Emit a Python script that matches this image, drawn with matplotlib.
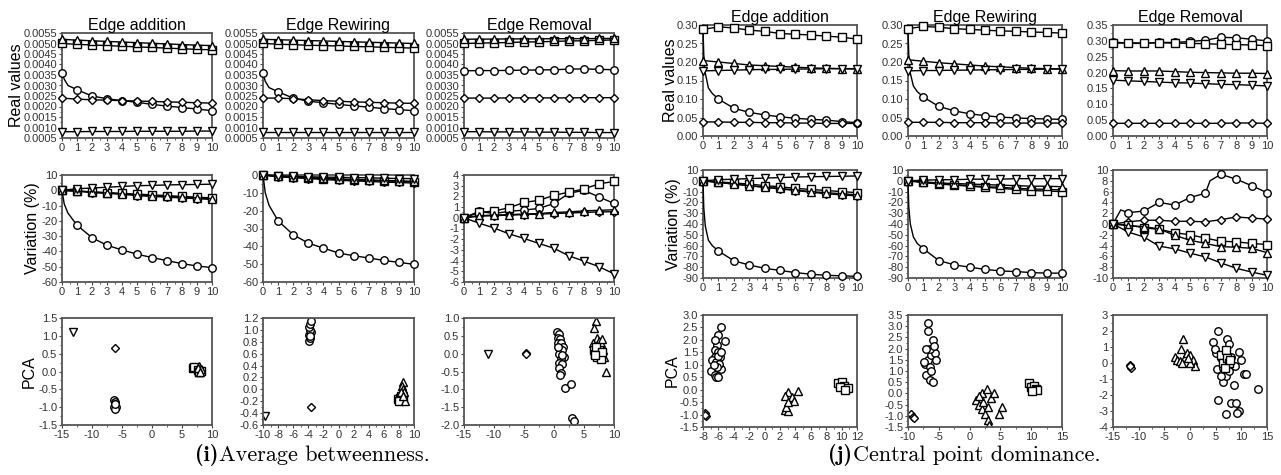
import matplotlib
matplotlib.use('Agg')
import matplotlib.pyplot as plt
from matplotlib.ticker import MultipleLocator, AutoMinorLocator, FormatStrFormatter

plt.rcParams['font.family'] = ['Liberation Sans', 'DejaVu Sans']
plt.rcParams['axes.unicode_minus'] = True

W, H = 1281, 475

steps = [0, 1, 2, 3, 4, 5, 6, 7, 8, 9, 10]
markers = ['o', 'D', 's', '^', 'v']
titles = ['Edge addition', 'Edge Rewiring', 'Edge Removal']
row_labels = ['Real values', 'Variation (%)', 'PCA']

# ---- (i) average betweenness : real values ----
bet_add_real = {
    'o': [0.0036, 0.0028, 0.00250, 0.00237, 0.00228, 0.00220, 0.00210, 0.00202, 0.00195, 0.00188, 0.00180],
    'D': [0.00240, 0.00235, 0.00232, 0.00230, 0.00228, 0.00226, 0.00224, 0.00222, 0.00220, 0.00218, 0.00216],
    's': [0.00500, 0.00496, 0.00493, 0.00490, 0.00487, 0.00484, 0.00481, 0.00478, 0.00475, 0.00472, 0.00470],
    '^': [0.00520, 0.00516, 0.00513, 0.00510, 0.00507, 0.00504, 0.00501, 0.00498, 0.00495, 0.00492, 0.00490],
    'v': [0.00080, 0.00080, 0.00081, 0.00081, 0.00081, 0.00082, 0.00082, 0.00082, 0.00082, 0.00083, 0.00083],
}
bet_add_real_early = {'o': ([0.15, 0.4], [0.0033, 0.0030])}

bet_rew_real = {
    'o': [0.0036, 0.0027, 0.00240, 0.00225, 0.00218, 0.00210, 0.00203, 0.00197, 0.00190, 0.00185, 0.00180],
    'D': [0.00240, 0.00240, 0.00237, 0.00232, 0.00228, 0.00225, 0.00222, 0.00220, 0.00218, 0.00216, 0.00215],
    's': [0.00500, 0.00497, 0.00494, 0.00492, 0.00490, 0.00488, 0.00486, 0.00484, 0.00482, 0.00480, 0.00478],
    '^': [0.00520, 0.00518, 0.00516, 0.00514, 0.00512, 0.00510, 0.00508, 0.00506, 0.00504, 0.00502, 0.00500],
    'v': [0.00080, 0.00080, 0.00080, 0.00080, 0.00080, 0.00080, 0.00080, 0.00080, 0.00080, 0.00080, 0.00080],
}
bet_rew_real_early = {'o': ([0.15, 0.4], [0.0032, 0.0029])}

bet_rem_real = {
    'o': [0.00370, 0.00371, 0.00371, 0.00372, 0.00373, 0.00374, 0.00375, 0.00378, 0.00379, 0.00377, 0.00375],
    'D': [0.00240, 0.00240, 0.00240, 0.00241, 0.00241, 0.00241, 0.00241, 0.00241, 0.00242, 0.00242, 0.00242],
    's': [0.00500, 0.00502, 0.00503, 0.00505, 0.00507, 0.00508, 0.00510, 0.00512, 0.00513, 0.00515, 0.00517],
    '^': [0.00520, 0.00521, 0.00521, 0.00522, 0.00522, 0.00522, 0.00523, 0.00523, 0.00523, 0.00524, 0.00524],
    'v': [0.00080, 0.00080, 0.00079, 0.00079, 0.00079, 0.00078, 0.00078, 0.00077, 0.00077, 0.00076, 0.00076],
}

# ---- (i) average betweenness : variation (%) ----
bet_add_var = {
    'o': [0, -22.8, -31, -36, -39, -41.8, -44, -46, -48, -49.5, -50.6],
    'D': [0, -0.5, -1.5, -2, -2.5, -3.5, -4, -4.5, -5, -5.5, -6],
    's': [0, -0.5, -1, -1.5, -2, -2.5, -3, -3.5, -4, -4.5, -5],
    '^': [0, -0.5, -1.2, -1.8, -2.5, -3, -3.5, -4, -4.5, -5, -5.5],
    'v': [0, 1, 1.5, 2, 2.5, 3, 3.2, 3.5, 3.7, 3.8, 4],
}
bet_add_var_early = {'o': ([0.15, 0.4], [-9, -15])}

bet_rew_var = {
    'o': [0, -25.7, -33.5, -38.2, -41, -43.7, -45.3, -46.5, -47.9, -49, -50.1],
    'D': [0, -1, -1.5, -2, -2.5, -3, -3.3, -3.6, -4, -4.2, -4.5],
    's': [0, -0.8, -1.2, -1.6, -2, -2.4, -2.8, -3, -3.3, -3.6, -4],
    '^': [0, -0.6, -1, -1.4, -1.8, -2.2, -2.5, -2.8, -3, -3.3, -3.5],
    'v': [0, -0.5, -0.8, -1, -1.2, -1.3, -1.5, -1.6, -1.8, -2, -2],
}
bet_rew_var_early = {'o': ([0.15, 0.4], [-10, -17])}

bet_rem_var = {
    'o': [0, 0.6, 0.4, 0.6, 0.72, 0.88, 1.34, 2.3, 2.56, 1.95, 1.34],
    'D': [0, 0.15, 0.2, 0.25, 0.3, 0.35, 0.4, 0.45, 0.5, 0.55, 0.57],
    's': [0, 0.5, 0.63, 0.94, 1.43, 1.64, 2.1, 2.4, 2.7, 3.17, 3.4],
    '^': [0, 0.2, 0.25, 0.3, 0.35, 0.4, 0.5, 0.55, 0.65, 0.7, 0.75],
    'v': [0, -0.5, -0.95, -1.5, -1.93, -2.4, -2.85, -3.56, -4.05, -4.57, -5.24],
}

# ---- (i) average betweenness : PCA ----
bet_add_pca = {
    'v': ([-13.2], [1.1]),
    'D': ([-6.2], [0.67]),
    'o': ([-6.3, -6.2, -6.1, -6.2, -6.3, -6.0, -6.2, -6.1],
          [-0.8, -0.85, -0.9, -0.95, -1.0, -1.0, -1.05, -0.92]),
    's': ([6.8, 7.0, 7.6, 7.9, 8.1, 7.8], [0.1, 0.12, 0.05, 0.0, 0.02, -0.02]),
    '^': ([7.9, 8.1, 7.7, 8.0], [0.15, 0.08, 0.1, 0.0]),
}
bet_rew_pca = {
    'v': ([-9.7], [-0.45]),
    'o': ([-3.9, -3.8, -3.9, -3.7, -3.8, -3.9, -3.8, -3.7, -3.8],
          [0.82, 0.87, 0.92, 0.97, 1.0, 1.05, 1.1, 1.15, 0.9]),
    'D': ([-3.6], [-0.3]),
    's': ([7.9, 8.2, 8.5, 8.3, 8.0], [-0.17, -0.15, -0.18, -0.12, -0.2]),
    '^': ([8.5, 8.4, 8.6, 8.7, 8.8, 8.3, 8.6], [0.12, 0.05, 0.0, -0.05, -0.2, -0.05, -0.12]),
}
bet_rem_pca = {
    'v': ([-11.0], [0.0]),
    'D': ([-4.7, -4.6], [0.03, -0.02]),
    'o': ([0.5, 0.8, 0.6, 1.0, 0.7, 1.2, 1.5, 0.9, 1.3, 0.8, 1.6, 1.1, 0.9, 1.3, 0.9, 1.2, 1.0, 1.4, 0.6,
           1.8, 2.9, 3.0, 3.4],
          [0.6, 0.55, 0.45, 0.4, 0.3, 0.3, 0.2, 0.15, 0.1, 0.0, -0.1, -0.15, -0.25, -0.3, -0.4, -0.55, -0.6, -0.05, 0.2,
           -0.97, -0.85, -1.81, -1.88]),
    '^': ([7.0, 6.7, 8.6, 7.2, 7.5, 7.8, 8.2, 8.4, 6.5, 7.0, 7.6, 8.0],
          [0.92, 0.72, -0.5, 0.45, 0.35, 0.3, 0.1, -0.1, 0.3, 0.2, 0.0, 0.4]),
    's': ([6.6, 6.9, 7.2, 7.5, 7.0, 7.8, 8.0, 6.8], [0.1, 0.0, -0.1, 0.1, 0.2, -0.15, 0.05, -0.05]),
}

# ---- (j) central point dominance : real values ----
cpd_add_real = {
    'o': [0.29, 0.100, 0.075, 0.064, 0.057, 0.052, 0.048, 0.045, 0.043, 0.039, 0.036],
    'D': [0.038, 0.038, 0.037, 0.037, 0.036, 0.036, 0.035, 0.035, 0.034, 0.034, 0.034],
    's': [0.288, 0.295, 0.292, 0.286, 0.283, 0.277, 0.275, 0.273, 0.270, 0.267, 0.262],
    '^': [0.204, 0.200, 0.196, 0.192, 0.190, 0.188, 0.186, 0.184, 0.183, 0.182, 0.181],
    'v': [0.176, 0.177, 0.178, 0.179, 0.180, 0.180, 0.181, 0.181, 0.182, 0.182, 0.182],
}
cpd_add_real_early = {'o': ([0.05, 0.15, 0.35, 0.6], [0.22, 0.17, 0.13, 0.115])}

cpd_rew_real = {
    'o': [0.29, 0.105, 0.080, 0.068, 0.060, 0.055, 0.051, 0.049, 0.047, 0.046, 0.045],
    'D': [0.037, 0.037, 0.037, 0.036, 0.036, 0.036, 0.035, 0.035, 0.035, 0.035, 0.035],
    's': [0.290, 0.296, 0.294, 0.290, 0.288, 0.286, 0.284, 0.283, 0.281, 0.280, 0.278],
    '^': [0.206, 0.202, 0.198, 0.195, 0.192, 0.189, 0.187, 0.185, 0.183, 0.182, 0.181],
    'v': [0.176, 0.177, 0.177, 0.178, 0.178, 0.179, 0.179, 0.180, 0.180, 0.181, 0.181],
}
cpd_rew_real_early = {'o': ([0.05, 0.15, 0.35, 0.6], [0.22, 0.17, 0.135, 0.12])}

cpd_rem_real = {
    'o': [0.297, 0.292, 0.292, 0.295, 0.295, 0.298, 0.302, 0.311, 0.310, 0.305, 0.300],
    'D': [0.040, 0.040, 0.040, 0.040, 0.040, 0.040, 0.040, 0.040, 0.041, 0.041, 0.040],
    's': [0.292, 0.294, 0.293, 0.294, 0.293, 0.292, 0.291, 0.289, 0.288, 0.287, 0.285],
    '^': [0.206, 0.205, 0.205, 0.205, 0.203, 0.201, 0.200, 0.199, 0.198, 0.198, 0.197],
    'v': [0.176, 0.174, 0.172, 0.170, 0.168, 0.167, 0.165, 0.163, 0.162, 0.160, 0.158],
}

# ---- (j) central point dominance : variation (%) ----
cpd_add_var = {
    'o': [0, -65, -74, -78, -81, -83, -85, -86.5, -87.5, -88, -88.5],
    'D': [0, -1.5, -3, -4.5, -6, -7.5, -9, -10.5, -12, -13, -14],
    's': [0, -1, -2, -3, -4.5, -5.5, -7, -8, -9, -10, -11],
    '^': [0, -1.5, -3, -4.5, -6, -7, -8.5, -10, -11, -12, -13],
    'v': [0, 1, 1.5, 2, 2.5, 3, 3.5, 3.8, 4, 4.2, 4.5],
}
cpd_add_var_early = {'o': ([0.05, 0.15, 0.35, 0.6], [-25, -42, -55, -60])}

cpd_rew_var = {
    'o': [0, -63, -73.8, -77.8, -80, -82, -83.5, -84, -85, -85.5, -85.5],
    'D': [0, -1.5, -2.5, -3.5, -4.5, -5.5, -6, -7, -7.5, -8, -8.5],
    's': [0, -1.5, -3, -4, -5, -6, -7, -8, -9, -9.5, -10],
    '^': [0, -1, -2, -2.5, -3, -3.5, -4, -4.5, -5, -5, -5.5],
    'v': [0, 0.5, 1, 1, 1.5, 1.5, 1.5, 2, 2, 2, 2],
}
cpd_rew_var_early = {'o': ([0.05, 0.15, 0.35, 0.6], [-24, -40, -52, -58])}

cpd_rem_var = {
    'o': [0, 2.1, 2.4, 4.0, 3.5, 4.9, 5.7, 9.2, 8.3, 7.1, 5.8],
    'D': [0, 0.4, 0.7, 0.7, 0.5, 0.5, 0.4, 0.8, 1.3, 1.1, 0.9],
    's': [0, -0.2, -0.7, -1.0, -1.6, -2.0, -2.6, -3.2, -3.3, -3.6, -3.8],
    '^': [0, -0.3, -0.5, -0.9, -2.1, -3.0, -3.6, -4.2, -4.3, -4.5, -5.3],
    'v': [0, -1.5, -2.4, -4.1, -4.6, -5.4, -6.1, -7.2, -8.2, -8.9, -9.5],
}
cpd_rem_var_early = {'o': ([0.5, 6.3], [2.6, 8.0])}

# ---- (j) central point dominance : PCA ----
cpd_add_pca = {
    'o': ([-6.9, -6.5, -6.3, -6.0, -5.7, -5.2, -5.7, -6.1, -6.2, -6.4, -6.0, -5.8, -6.5, -6.8, -6.3, -5.9,
           -6.2, -6.6, -6.1, -5.6, -6.4],
          [0.75, 0.6, 0.5, 0.5, 0.85, 1.95, 2.5, 2.2, 1.8, 1.6, 1.5, 1.3, 1.3, 1.2, 1.1, 1.05,
           0.9, 1.0, 1.35, 1.5, 2.0]),
    'D': ([-7.8, -7.6, -7.7], [-0.95, -1.05, -1.0]),
    '^': ([2.6, 3.0, 2.8, 3.2, 3.0, 3.5, 4.3, 3.8, 2.7, 3.1],
          [-0.8, -0.85, -0.7, -0.2, -0.1, -0.3, -0.05, -0.45, -0.25, -0.5]),
    's': ([9.5, 10.0, 10.3, 10.8, 9.8, 10.5], [0.25, 0.3, 0.15, 0.05, 0.1, 0.0]),
}
cpd_rew_pca = {
    'o': ([-7.0, -6.5, -6.0, -7.3, -6.8, -6.2, -5.6, -5.5, -6.4, -6.0, -6.7, -6.8, -7.1, -6.5, -7.4, -5.8, -6.2],
          [0.8, 0.6, 0.5, 1.3, 1.5, 1.7, 1.8, 1.5, 2.0, 2.4, 2.8, 3.15, 2.0, 1.2, 1.4, 2.1, 1.0]),
    'D': ([-9.5, -9.2, -9.0], [-0.9, -1.05, -1.1]),
    '^': ([1.0, 1.5, 2.0, 2.5, 3.0, 3.2, 2.0, 2.8, 3.5, 4.0, 5.3, 4.8, 2.2, 3.0, 1.5],
          [-0.3, -0.5, -0.7, -0.9, -1.2, -1.4, 0.0, 0.2, -0.2, 0.0, -0.6, -0.9, -0.4, -0.6, -0.1]),
    's': ([9.6, 10.0, 10.5, 10.8, 11.0, 10.2], [0.45, 0.3, 0.35, 0.2, 0.15, 0.1]),
}
cpd_rem_pca = {
    'D': ([-11.6, -11.5, -11.7], [-0.1, -0.3, -0.2]),
    '^': ([-1.3, -1.8, -3.0, -2.5, -2.0, -1.0, -0.5, 0.0, 0.5, 1.0, -1.5, 0.0, -0.3],
          [1.5, 0.9, 0.4, 0.2, 0.1, 0.4, 0.6, 0.5, 0.2, -0.2, 0.0, 0.0, 0.3]),
    'o': ([5.5, 4.5, 7.2, 7.5, 9.5, 10.0, 10.5, 11.0, 13.3, 8.5, 5.5, 8.0, 9.0, 7.0, 9.5, 9.2, 6.5, 7.0,
           5.0, 6.0, 5.2, 8.0, 6.5, 7.5, 4.8, 8.8, 6.0],
          [2.0, 1.3, 1.5, 1.2, 0.7, 0.2, -0.7, -0.7, -1.6, -1.4, -2.3, -2.5, -2.5, -3.2, -3.0, -3.1, -1.2, -0.8,
           0.6, 0.3, -0.4, 0.4, -0.3, -0.5, 0.9, -0.2, -0.8]),
    's': ([6.0, 6.5, 7.0, 7.2, 7.5, 6.8, 7.8], [0.5, 0.0, 0.8, 0.3, 0.0, -0.3, 0.2]),
}

# axis ranges: (xlim, xstep, xfmt, ylim, ystep, yfmt)
bet_axes = [
    [((0, 10), 1, '%d', (0.0005, 0.0055), 0.0005, '%.4f'),
     ((0, 10), 1, '%d', (0.0005, 0.0055), 0.0005, '%.4f'),
     ((0, 10), 1, '%d', (0.0005, 0.0055), 0.0005, '%.4f')],
    [((0, 10), 1, '%d', (-60, 10), 10, '%d'),
     ((0, 10), 1, '%d', (-60, 0), 10, '%d'),
     ((0, 10), 1, '%d', (-6, 4), 1, '%d')],
    [((-15, 10), 5, '%d', (-1.5, 1.5), 0.5, '%.1f'),
     ((-10, 10), 2, '%d', (-0.6, 1.2), 0.2, '%.1f'),
     ((-15, 10), 5, '%d', (-2.0, 1.0), 0.5, '%.1f')],
]
cpd_axes = [
    [((0, 10), 1, '%d', (0, 0.30), 0.05, '%.2f'),
     ((0, 10), 1, '%d', (0, 0.30), 0.05, '%.2f'),
     ((0, 10), 1, '%d', (0, 0.35), 0.05, '%.2f')],
    [((0, 10), 1, '%d', (-90, 10), 10, '%d'),
     ((0, 10), 1, '%d', (-90, 10), 10, '%d'),
     ((0, 10), 1, '%d', (-10, 10), 2, '%d')],
    [((-8, 12), 2, '%d', (-1.5, 3.0), 0.5, '%.1f'),
     ((-10, 15), 5, '%d', (-1.5, 3.5), 0.5, '%.1f'),
     ((-15, 15), 5, '%d', (-4, 3), 1, '%d')],
]

bet_lines = [[(bet_add_real, bet_add_real_early), (bet_rew_real, bet_rew_real_early), (bet_rem_real, None)],
             [(bet_add_var, bet_add_var_early), (bet_rew_var, bet_rew_var_early), (bet_rem_var, None)]]
cpd_lines = [[(cpd_add_real, cpd_add_real_early), (cpd_rew_real, cpd_rew_real_early), (cpd_rem_real, None)],
             [(cpd_add_var, cpd_add_var_early), (cpd_rew_var, cpd_rew_var_early), (cpd_rem_var, cpd_rem_var_early)]]
bet_pca = [bet_add_pca, bet_rew_pca, bet_rem_pca]
cpd_pca = [cpd_add_pca, cpd_rew_pca, cpd_rem_pca]

MS = {'o': 5.4, 'D': 4.5, 's': 5.2, '^': 5.8, 'v': 5.8}


def add_ax(fig, l, t, r, b):
    return fig.add_axes([l / W, 1 - b / H, (r - l) / W, (b - t) / H])


def style(ax, cfg):
    xlim, xstep, xfmt, ylim, ystep, yfmt = cfg
    ax.set_xlim(*xlim)
    ax.set_ylim(*ylim)
    ax.xaxis.set_major_locator(MultipleLocator(xstep))
    ax.yaxis.set_major_locator(MultipleLocator(ystep))
    ax.xaxis.set_major_formatter(FormatStrFormatter(xfmt))
    ax.yaxis.set_major_formatter(FormatStrFormatter(yfmt))
    ax.xaxis.set_minor_locator(AutoMinorLocator(2))
    ax.yaxis.set_minor_locator(AutoMinorLocator(2))
    ax.tick_params(which='major', direction='out', length=2.5, width=0.8, color='#444444',
                   labelsize=8, labelcolor='#333333', pad=1)
    ax.tick_params(which='minor', direction='out', length=1.5, width=0.6, color='#444444')
    for s in ax.spines.values():
        s.set_color('#555555')
        s.set_linewidth(1.3)


def draw_lines(ax, series, early):
    for m in markers:
        xs, ys = list(steps), list(series[m])
        if early and m in early:
            ex, ey = early[m]
            pts = sorted(zip(xs + list(ex), ys + list(ey)))
            xs = [p[0] for p in pts]
            ys = [p[1] for p in pts]
        marks = [k for k, x in enumerate(xs) if float(x).is_integer()]
        ax.plot(xs, ys, color='black', lw=1.0, marker=m, markevery=marks, ms=MS[m],
                mfc='white', mec='black', mew=1.0, clip_on=False, zorder=3)


def draw_pca(ax, pts):
    for m, (xs, ys) in pts.items():
        ax.plot(xs, ys, ls='none', marker=m, ms=MS[m], mfc='white', mec='black', mew=1.0)


def panel(fig, cols, rows, lines, pca, axes_cfg, ylab_x, title_pad):
    for r in range(3):
        for c in range(3):
            ax = add_ax(fig, cols[c][0], rows[r][0], cols[c][1], rows[r][1])
            style(ax, axes_cfg[r][c])
            if r < 2:
                series, early = lines[r][c]
                draw_lines(ax, series, early)
            else:
                draw_pca(ax, pca[c])
            if r == 0:
                ax.set_title(titles[c], fontsize=11.5, pad=title_pad)
            if c == 0:
                ax.set_ylabel(row_labels[r], fontsize=11.5)
                ax.yaxis.set_label_coords(ylab_x[r], 0.5)


fig = plt.figure(figsize=(W / 100, H / 100), dpi=100)

bet_cols = [(62, 212), (263, 414), (464, 614)]
bet_rows = [(33, 138), (175, 282), (318, 425)]
cpd_cols = [(703, 857), (908, 1062), (1113, 1267)]
cpd_rows = [(25, 136), (170, 278), (315, 427)]

panel(fig, bet_cols, bet_rows, bet_lines, bet_pca, bet_axes, [-0.255, -0.145, -0.17], 2)
panel(fig, cpd_cols, cpd_rows, cpd_lines, cpd_pca, cpd_axes, [-0.165, -0.145, -0.15], 2)

# captions: bold label followed directly by the roman text
cy = 1 - 455 / H
renderer = fig.canvas.get_renderer()
for x0, lab, txt in [(195, '(i)', 'Average betweenness.'), (828, '(j)', 'Central point dominance.')]:
    t = fig.text(x0 / W, cy, lab, fontfamily='cmb10', fontsize=16, va='center', ha='left')
    ext = t.get_window_extent(renderer)
    fig.text(ext.x1 / W + 1 / W, cy, txt, fontfamily='cmr10', fontsize=16, va='center', ha='left')

fig.savefig('out.png', dpi=100)
